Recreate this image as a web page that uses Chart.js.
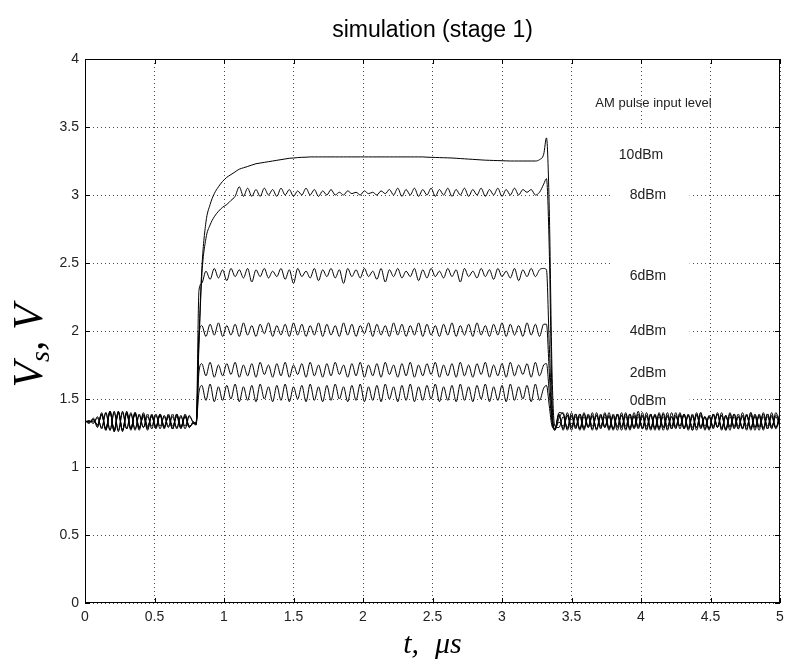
<!DOCTYPE html>
<html>
<head>
<meta charset="utf-8">
<title>simulation (stage 1)</title>
<script src="https://cdn.jsdelivr.net/npm/chart.js@4.4.1/dist/chart.umd.min.js"></script>
<style>
    html, body { margin: 0; padding: 0; background: #fff; }
    #wrap { width: 785px; height: 665px; }
</style>
</head>
<body>
<div id="wrap"><canvas id="chart" width="785" height="665"></canvas></div>
<script>
//sample instants of the simulation (us)
const stepsUs = (from, to, step) => {
    const out = [];
    for (let k = 0; from + k * step <= to + 1e-9; k++) out.push(+(from + k * step).toFixed(2));
    return out;
};
const timeUs = [
    ...stepsUs(0, 0.78, 0.03),      // before the pulse (27)
    0.80, 0.82,                     // rising edge
    ...stepsUs(0.84, 3.30, 0.03),   // top of the pulse (83)
    3.32, 3.34, 3.36, 3.38, 3.41,   // falling edge
    ...stepsUs(3.44, 5.00, 0.03)    // after the pulse (53)
];

const inputLevels = ['10dBm', '8dBm', '6dBm', '4dBm', '2dBm', '0dBm'];

//Vs in volts, one value per entry of timeUs
const vs10dBm = [
    1.34,1.32,1.36,1.29,1.40,1.27,1.41,1.26,1.41,1.27,1.40,1.27,1.40,1.28,1.39,1.29,1.38,1.28,1.39,1.29,1.38,1.28,1.39,1.29,1.38,1.29,1.33,
    1.31,1.95,
    2.45,2.80,2.93,3.01,3.06,3.10,3.13,3.15,3.17,3.19,3.20,3.21,3.22,3.23,3.235,3.24,3.245,3.25,3.255,3.26,
    3.265,3.27,3.272,3.275,3.277,3.278,3.28,3.28,3.28,3.28,3.28,3.28,3.28,3.28,3.28,3.28,3.28,3.28,3.28,3.28,
    3.28,3.28,3.28,3.28,3.28,3.28,3.28,3.28,3.28,3.28,3.28,3.28,3.28,3.28,3.278,3.277,3.276,3.275,3.274,3.273,
    3.272,3.27,3.268,3.266,3.264,3.262,3.26,3.258,3.256,3.255,3.254,3.253,3.252,3.251,3.25,3.25,3.25,3.25,3.25,3.25,
    3.25,3.26,3.30,
    3.42,2.90,1.70,1.30,1.29,
    1.37,1.29,1.38,1.28,1.39,1.29,1.37,1.28,1.38,1.30,
    1.39,1.27,1.38,1.29,1.40,1.28,1.37,1.29,1.39,1.28,
    1.38,1.27,1.39,1.29,1.37,1.28,1.40,1.29,1.38,1.28,
    1.39,1.27,1.38,1.29,1.37,1.28,1.39,1.29,1.38,1.27,
    1.39,1.28,1.37,1.29,1.38,1.28,1.39,1.29,1.37,1.28,
    1.40,1.29,1.37
];
const vs8dBm = [
    1.34,1.33,1.35,1.30,1.39,1.27,1.41,1.27,1.40,1.26,1.41,1.28,1.39,1.27,1.40,1.30,1.37,1.29,1.38,1.28,1.39,1.30,1.37,1.28,1.39,1.30,1.32,
    1.33,1.90,
    2.40,2.68,2.78,2.84,2.88,2.91,2.93,2.96,2.99,3.06,2.99,3.05,2.99,3.04,2.99,3.05,3.00,3.04,2.99,3.05,
    3.00,3.04,2.99,3.03,3.00,3.05,3.00,3.04,2.99,3.03,3.00,3.04,3.00,3.02,3.00,3.03,3.01,3.02,3.00,3.03,
    3.01,3.02,3.00,3.03,3.01,3.04,3.00,3.05,2.99,3.04,3.00,3.05,2.99,3.04,3.00,3.05,2.99,3.04,3.00,3.05,
    2.99,3.04,3.00,3.05,2.99,3.04,3.00,3.05,2.99,3.04,3.00,3.05,2.99,3.04,3.00,3.05,3.00,3.04,3.02,3.04,
    3.00,3.02,3.08,
    3.12,2.60,1.50,1.28,1.33,
    1.30,1.38,1.27,1.39,1.28,1.40,1.29,1.37,1.28,1.39,
    1.29,1.38,1.27,1.39,1.30,1.37,1.28,1.40,1.29,1.38,
    1.27,1.39,1.28,1.37,1.29,1.40,1.28,1.38,1.30,1.39,
    1.28,1.37,1.29,1.40,1.27,1.38,1.29,1.39,1.28,1.37,
    1.30,1.39,1.28,1.38,1.27,1.40,1.29,1.37,1.28,1.39,
    1.29,1.38,1.33
];
const vs6dBm = [
    1.34,1.33,1.34,1.31,1.39,1.28,1.41,1.26,1.40,1.27,1.40,1.28,1.40,1.29,1.38,1.27,1.39,1.30,1.38,1.29,1.37,1.28,1.39,1.30,1.37,1.29,1.33,
    1.32,2.30,
    2.35,2.44,2.38,2.46,2.39,2.45,2.37,2.46,2.40,2.45,2.39,2.46,2.36,2.45,2.40,2.46,2.39,2.44,2.40,2.46,
    2.38,2.45,2.35,2.46,2.40,2.44,2.39,2.46,2.37,2.45,2.40,2.46,2.39,2.45,2.35,2.46,2.40,2.45,2.39,2.46,
    2.40,2.44,2.38,2.46,2.36,2.45,2.40,2.46,2.39,2.44,2.40,2.46,2.37,2.45,2.39,2.46,2.40,2.44,2.39,2.46,
    2.40,2.45,2.36,2.46,2.40,2.44,2.39,2.46,2.40,2.45,2.38,2.46,2.40,2.44,2.39,2.46,2.37,2.45,2.40,2.46,
    2.40,2.45,2.46,
    2.45,1.90,1.40,1.27,1.36,
    1.40,1.27,1.37,1.30,1.39,1.28,1.38,1.27,1.40,1.29,
    1.37,1.28,1.39,1.30,1.38,1.27,1.39,1.29,1.41,1.28,
    1.37,1.29,1.38,1.28,1.40,1.27,1.37,1.30,1.39,1.28,
    1.38,1.29,1.40,1.28,1.37,1.27,1.39,1.30,1.38,1.28,
    1.40,1.29,1.37,1.28,1.39,1.27,1.38,1.30,1.39,1.28,
    1.37,1.29,1.40
];
const vs4dBm = [
    1.33,1.34,1.33,1.36,1.29,1.40,1.27,1.40,1.27,1.41,1.28,1.39,1.28,1.38,1.29,1.39,1.28,1.38,1.30,1.37,1.29,1.39,1.28,1.37,1.30,1.38,1.32,
    1.31,1.98,
    2.04,1.96,2.05,1.97,2.06,1.96,2.04,1.97,2.05,1.96,2.06,1.97,2.04,1.96,2.05,1.98,2.06,1.96,2.04,1.97,
    2.05,1.96,2.06,1.97,2.05,1.96,2.04,1.97,2.06,1.96,2.05,1.97,2.04,1.96,2.06,1.97,2.05,1.96,2.04,1.98,
    2.06,1.96,2.05,1.97,2.04,1.96,2.06,1.97,2.05,1.96,2.04,1.97,2.06,1.96,2.05,1.97,2.04,1.96,2.05,1.97,
    2.06,1.96,2.04,1.97,2.05,1.96,2.06,1.97,2.04,1.96,2.05,1.97,2.06,1.96,2.05,1.97,2.04,1.96,2.06,1.97,
    2.05,1.96,2.05,
    2.05,1.70,1.35,1.28,1.38,
    1.28,1.40,1.29,1.37,1.27,1.39,1.30,1.38,1.28,1.37,
    1.29,1.40,1.28,1.38,1.27,1.39,1.29,1.37,1.30,1.40,
    1.28,1.38,1.29,1.39,1.27,1.37,1.30,1.40,1.28,1.38,
    1.29,1.39,1.27,1.38,1.30,1.37,1.28,1.40,1.29,1.38,
    1.27,1.39,1.30,1.37,1.28,1.40,1.29,1.38,1.27,1.39,
    1.30,1.37,1.29
];
const vs2dBm = [
    1.33,1.34,1.32,1.37,1.28,1.40,1.27,1.41,1.26,1.40,1.28,1.40,1.27,1.39,1.29,1.37,1.30,1.39,1.28,1.38,1.30,1.37,1.29,1.38,1.28,1.37,1.33,
    1.32,1.70,
    1.76,1.67,1.77,1.66,1.75,1.67,1.76,1.68,1.77,1.66,1.75,1.67,1.76,1.66,1.77,1.68,1.75,1.66,1.76,1.67,
    1.77,1.66,1.75,1.68,1.76,1.66,1.77,1.67,1.75,1.66,1.76,1.67,1.77,1.68,1.75,1.66,1.76,1.67,1.77,1.66,
    1.75,1.67,1.76,1.66,1.77,1.68,1.75,1.66,1.76,1.67,1.77,1.66,1.75,1.67,1.76,1.68,1.77,1.66,1.75,1.67,
    1.76,1.66,1.77,1.67,1.75,1.66,1.76,1.68,1.77,1.66,1.75,1.67,1.76,1.66,1.77,1.67,1.75,1.68,1.76,1.66,
    1.77,1.67,1.75,
    1.76,1.55,1.33,1.27,1.40,
    1.39,1.28,1.40,1.29,1.37,1.27,1.39,1.30,1.38,1.28,
    1.40,1.29,1.37,1.27,1.38,1.30,1.39,1.28,1.37,1.29,
    1.40,1.28,1.38,1.27,1.39,1.30,1.37,1.28,1.40,1.29,
    1.38,1.27,1.39,1.30,1.37,1.28,1.38,1.29,1.40,1.27,
    1.37,1.30,1.39,1.28,1.38,1.29,1.37,1.27,1.40,1.30,
    1.38,1.28,1.39
];
const vs0dBm = [
    1.34,1.33,1.35,1.31,1.38,1.28,1.40,1.27,1.41,1.27,1.39,1.28,1.40,1.29,1.37,1.28,1.38,1.29,1.39,1.30,1.37,1.28,1.38,1.29,1.37,1.30,1.32,
    1.33,1.55,
    1.60,1.49,1.61,1.48,1.59,1.49,1.60,1.50,1.61,1.48,1.59,1.49,1.60,1.48,1.61,1.50,1.59,1.48,1.60,1.49,
    1.61,1.48,1.59,1.50,1.60,1.48,1.61,1.49,1.59,1.48,1.60,1.49,1.61,1.50,1.59,1.48,1.60,1.49,1.61,1.48,
    1.59,1.49,1.60,1.48,1.61,1.50,1.59,1.48,1.60,1.49,1.61,1.48,1.59,1.49,1.60,1.50,1.61,1.48,1.59,1.49,
    1.60,1.48,1.61,1.49,1.59,1.48,1.60,1.50,1.61,1.48,1.59,1.49,1.60,1.48,1.61,1.49,1.59,1.50,1.60,1.48,
    1.61,1.49,1.58,
    1.60,1.45,1.30,1.28,1.39,
    1.27,1.38,1.30,1.39,1.28,1.37,1.29,1.40,1.27,1.38,
    1.30,1.37,1.28,1.39,1.29,1.40,1.27,1.38,1.28,1.37,
    1.30,1.39,1.27,1.40,1.29,1.38,1.28,1.37,1.30,1.39,
    1.27,1.38,1.29,1.40,1.28,1.37,1.30,1.39,1.27,1.38,
    1.29,1.37,1.28,1.40,1.30,1.38,1.27,1.39,1.29,1.37,
    1.28,1.40,1.31
];
const seriesValues = [vs10dBm, vs8dBm, vs6dBm, vs4dBm, vs2dBm, vs0dBm];

//where the level notes sit, in axis units
const notePlace = [[4.0, 3.294], [4.05, 3.0], [4.05, 2.404], [4.05, 2.0], [4.05, 1.691], [4.05, 1.485]];
const noteBox = {t0: 3.78, t1: 4.35, v0: 1.43, v1: 3.47};

const tickFont = {family: '"Liberation Sans Narrow", "Liberation Sans", Arial, sans-serif', size: 14};
const serif = '"Liberation Serif", "DejaVu Serif", serif';

const toPoints = values => timeUs.slice(0, values.length).map((t, k) => ({x: t, y: values[k]}));

//grid box, inner ticks, texts
const matlabLook = {
    id: 'matlabLook',
    beforeDatasetsDraw(chart) {
        const {ctx, scales: {x, y}} = chart;
        const l = x.getPixelForValue(noteBox.t0), r = x.getPixelForValue(noteBox.t1);
        const t = y.getPixelForValue(noteBox.v1), b = y.getPixelForValue(noteBox.v0);
        ctx.save();
        ctx.fillStyle = '#fff';
        ctx.fillRect(l, t, r - l, b - t);
        ctx.restore();
    },
    afterDatasetsDraw(chart) {
        const {ctx, chartArea: a, scales: {x, y}} = chart;
        ctx.save();
        ctx.strokeStyle = '#000';
        ctx.lineWidth = 1;
        ctx.strokeRect(a.left + 0.5, a.top + 0.5, a.right - a.left - 1, a.bottom - a.top - 1);
        ctx.beginPath();
        x.ticks.forEach(tk => {
            const px = Math.round(x.getPixelForValue(tk.value)) + 0.5;
            ctx.moveTo(px, a.bottom); ctx.lineTo(px, a.bottom - 5);
            ctx.moveTo(px, a.top); ctx.lineTo(px, a.top + 5);
        });
        y.ticks.forEach(tk => {
            const py = Math.round(y.getPixelForValue(tk.value)) + 0.5;
            ctx.moveTo(a.left, py); ctx.lineTo(a.left + 5, py);
            ctx.moveTo(a.right, py); ctx.lineTo(a.right - 5, py);
        });
        ctx.stroke();

        ctx.fillStyle = '#222';
        ctx.textAlign = 'center';
        ctx.textBaseline = 'middle';
        ctx.font = '13px "Liberation Sans", Arial, sans-serif';
        ctx.fillText('AM pulse input level', x.getPixelForValue(4.09), y.getPixelForValue(3.67));
        ctx.font = '14px "Liberation Sans", Arial, sans-serif';
        inputLevels.forEach((lv, i) => {
            ctx.fillText(lv, x.getPixelForValue(notePlace[i][0]), y.getPixelForValue(notePlace[i][1]));
        });
        ctx.restore();
    },
    afterDraw(chart) {
        const {ctx, chartArea: a} = chart;
        const midX = (a.left + a.right) / 2;
        ctx.save();
        ctx.fillStyle = '#000';
        ctx.textBaseline = 'middle';
        ctx.textAlign = 'center';
        ctx.font = '23px "Liberation Sans", Arial, sans-serif';
        ctx.fillText('simulation (stage 1)', midX, 31);

        //x label: t, \mu s
        ctx.textAlign = 'left';
        ctx.textBaseline = 'alphabetic';
        ctx.font = 'italic 30px ' + serif;
        const wT = ctx.measureText('t,').width, gap = 16, wMu = ctx.measureText('μs').width;
        let px = midX - (wT + gap + wMu) / 2;
        ctx.fillText('t,', px, 653);
        ctx.fillText('μs', px + wT + gap, 653);

        //y label: V_s, V
        ctx.translate(42, (a.top + a.bottom) / 2 + 15);
        ctx.rotate(-Math.PI / 2);
        const big = 'italic 42px ' + serif, small = 'italic 28px ' + serif;
        ctx.font = big;
        const wV = ctx.measureText('V').width, wC = ctx.measureText(', ').width;
        ctx.font = small;
        const wS = ctx.measureText('s').width;
        let cx = -(wV + wS + wC + wV) / 2;
        ctx.font = big; ctx.fillText('V', cx, 0); cx += wV;
        ctx.font = small; ctx.fillText('s', cx, 7); cx += wS;
        ctx.font = big; ctx.fillText(',', cx, 0); cx += wC;
        ctx.fillText('V', cx, 0);
        ctx.restore();
    }
};

const plainNumber = value => String(+value.toFixed(2));

new Chart(document.getElementById('chart'), {
    type: 'line',
    data: {
        datasets: inputLevels.map((label, i) => ({
            label: label,
            data: toPoints(seriesValues[i]),
            borderColor: '#000',
            borderWidth: 1,
            pointRadius: 0,
            cubicInterpolationMode: 'monotone',
            fill: false
        }))
    },
    options: {
        responsive: false,
        animation: false,
        devicePixelRatio: 1,
        layout: {padding: {top: 59, right: 5, left: 0, bottom: 0}},
        plugins: {legend: {display: false}, tooltip: {enabled: false}, title: {display: false}},
        scales: {
            x: {
                type: 'linear',
                min: 0, max: 5,
                afterFit: scale => { scale.height = 62; scale.paddingLeft = 0; scale.paddingRight = 0; },
                ticks: {stepSize: 0.5, color: '#222', font: tickFont, padding: 6, maxRotation: 0, callback: plainNumber},
                grid: {color: 'rgba(0,0,0,0.7)', lineWidth: 1, drawTicks: false},
                border: {display: false, dash: [1, 3]}
            },
            y: {
                type: 'linear',
                min: 0, max: 4,
                afterFit: scale => { scale.width = 85; scale.paddingTop = 0; scale.paddingBottom = 0; },
                ticks: {stepSize: 0.5, color: '#222', font: tickFont, padding: 6, callback: plainNumber},
                grid: {color: 'rgba(0,0,0,0.7)', lineWidth: 1, drawTicks: false},
                border: {display: false, dash: [1, 3]}
            }
        }
    },
    plugins: [matlabLook]
});
</script>
</body>
</html>
